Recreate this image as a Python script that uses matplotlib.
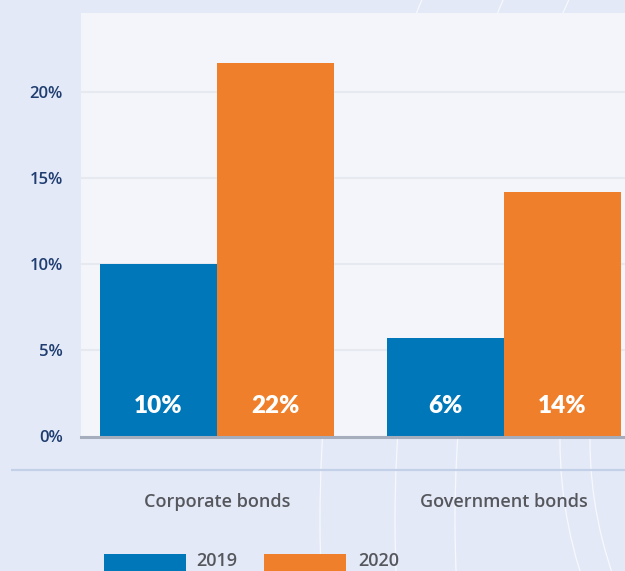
import matplotlib
matplotlib.use("Agg")
import matplotlib.pyplot as plt
from matplotlib.patches import Circle, Rectangle
import numpy as np

# Data
categories = ["Corporate bonds", "Government bonds"]
series_names = ["2019", "2020"]
values_2019 = [10.0, 5.7]
values_2020 = [21.7, 14.2]
y_ticks = [0, 5, 10, 15, 20]
y_tick_labels = ["0%", "5%", "10%", "15%", "20%"]

# Styling
BG = "#e3e9f7"
PLOT_BG = "#f4f5fb"
BLUE = "#0077b9"
ORANGE = "#ef7f2a"
TICK_COLOR = "#1f3d70"
CAT_COLOR = "#55575c"
FONT = ["Open Sans", "DejaVu Sans"]
LABEL_FONT = ["Lato", "DejaVu Sans"]

W, H = 625, 571
fig = plt.figure(figsize=(W / 100, H / 100), dpi=100, facecolor=BG)

# Background layer in pixel coordinates (origin top-left)
bg = fig.add_axes([0, 0, 1, 1], zorder=0)
bg.set_xlim(0, W)
bg.set_ylim(H, 0)
bg.axis("off")
bg.set_facecolor(BG)

# Faint decorative arcs
for r in [1380, 1305, 1245]:
    bg.add_patch(Circle((1700, 520), r, fill=False, ec="white", lw=0.9, alpha=0.7))
for r in [440, 410]:
    bg.add_patch(Circle((1000, 440), r, fill=False, ec="white", lw=0.9, alpha=0.7))

# Separator rule under the chart
bg.plot([11, W], [470, 470], color="#c4cfe8", lw=1.6, solid_capstyle="butt")

# Main chart axes
left_px, right_px, top_px, bottom_px = 81, 640, 13, 436.5
ax = fig.add_axes([left_px / W, 1 - bottom_px / H,
                   (right_px - left_px) / W, (bottom_px - top_px) / H], zorder=2)
ax.set_facecolor(PLOT_BG)

x = np.arange(len(categories))
bw = 0.408
b1 = ax.bar(x - bw / 2, values_2019, bw, color=BLUE, zorder=3)
b2 = ax.bar(x + bw / 2, values_2020, bw, color=ORANGE, zorder=3)

for bars, vals in [(b1, values_2019), (b2, values_2020)]:
    for rect, v in zip(bars, vals):
        ax.text(rect.get_x() + rect.get_width() / 2, 1.8, f"{v:.0f}%",
                ha="center", va="center", color="white", fontsize=17.5,
                fontweight="heavy", family=LABEL_FONT, zorder=4)

ax.set_xlim(-0.474, 1.474)
ax.set_ylim(0, 24.6)
ax.set_yticks(y_ticks, y_tick_labels)
ax.set_xticks(x, categories)
ax.tick_params(axis="y", length=0, pad=13, labelcolor=TICK_COLOR, labelsize=12)
ax.tick_params(axis="x", length=0, pad=41, labelcolor=CAT_COLOR, labelsize=13)
for lab in ax.get_yticklabels():
    lab.set_fontfamily(FONT)
    lab.set_fontweight("semibold")
for lab in ax.get_xticklabels():
    lab.set_fontfamily(FONT)
    lab.set_fontweight("semibold")

ax.yaxis.grid(True, color="#e7e9f0", lw=1.5, zorder=0)
ax.set_axisbelow(True)
for s in ["top", "right", "left"]:
    ax.spines[s].set_visible(False)
ax.spines["bottom"].set_color("#a6adbd")
ax.spines["bottom"].set_linewidth(2.2)
ax.spines["bottom"].set_zorder(5)

# Legend along the bottom edge
leg_items = [(104, BLUE, series_names[0], 196), (264, ORANGE, series_names[1], 358)]
for x0, col, name, tx in leg_items:
    bg.add_patch(Rectangle((x0, 554), 82, 22, color=col, lw=0))
    bg.text(tx, 561, name, ha="left", va="center", color=CAT_COLOR,
            fontsize=13, fontweight="semibold", family=FONT)

fig.savefig("out.png", dpi=100, facecolor=BG)
